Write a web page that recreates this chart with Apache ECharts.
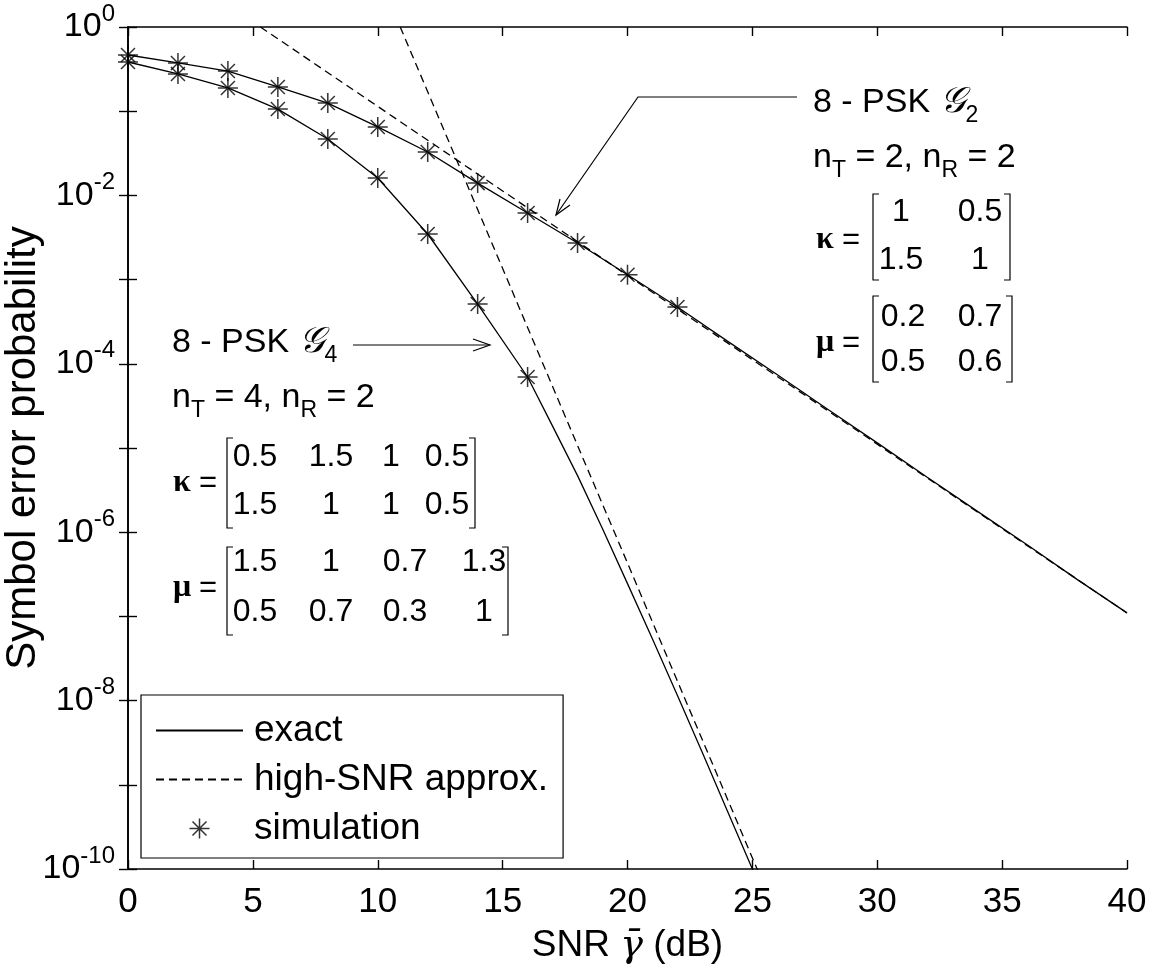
<!DOCTYPE html>
<html><head><meta charset="utf-8">
<script src="https://cdn.jsdelivr.net/npm/echarts@6/dist/echarts.min.js"></script>
<style>html,body{margin:0;padding:0;background:#fff}#c{width:1152px;height:974px}</style>
</head><body><div id="c"></div><script>
const FONT = "'Liberation Sans', Arial, Helvetica, sans-serif";
const SERIF = "'Liberation Serif', 'DejaVu Serif', serif";

// ---- data ----
const snrExactG2 = [0,2,4,6,8,10,12,14,16,18,20,22,24,26,28,30,32,34,36,38,40];
const serExactG2 = [0.465,0.374,0.300,0.194,0.125,0.065,0.0328,0.0140,0.00618,0.00272,0.00114,0.000473,1.86e-4,7.4e-5,2.9e-5,1.15e-5,4.5e-6,1.78e-6,7.1e-7,2.75e-7,1.10e-7];
const snrExactG4 = [0,2,4,6,8,10,12,14,16,17,18,19,20,21,22,23,24,25,26];
const serExactG4 = [0.384,0.277,0.189,0.106,0.0468,0.0161,0.00348,0.000513,6.97e-5,1.82e-5,4.7e-6,1.10e-6,2.45e-7,5.4e-8,1.15e-8,2.4e-9,4.9e-10,1.0e-10,2.0e-11];
const snrApproxG2 = [5.3,10,15,20,25,30,35,40];
const serApproxG2 = [1.0,0.114,0.0113,0.00112,1.12e-4,1.11e-5,1.10e-6,1.10e-7];
const snrApproxG4 = [10.9,12,14,16,18,20,22,24,26];
const serApproxG4 = [1.0,0.17,6.8e-3,2.7e-4,1.07e-5,4.3e-7,1.7e-8,6.8e-10,2.7e-11];
const snrSimG2 = [0,2,4,6,8,10,12,14,16,18,20,22];
const serSimG2 = [0.465,0.374,0.300,0.194,0.125,0.065,0.0328,0.0140,0.00618,0.00272,0.00114,0.000473];
const snrSimG4 = [0,2,4,6,8,10,12,14,16];
const serSimG4 = [0.384,0.277,0.189,0.106,0.0468,0.0161,0.00348,0.000513,6.97e-5];
const yLabelExps = [0,-2,-4,-6,-8,-10];
const legendNames = ['exact','high-SNR approx.','simulation'];

const zip = (a, b) => a.map((v, i) => [v, b[i]]);
const STAR = 'path://M10,0L10,20M0,10L20,10M3,3L17,17M3,17L17,3';

const chart = echarts.init(document.getElementById('c'), null, {renderer: 'canvas'});

const lineBase = {type: 'line', symbol: 'none', showSymbol: false, animation: false, silent: true, z: 3};
const solid = {color: '#000', width: 1.3, type: 'solid'};
const dashed = {color: '#000', width: 1.3, type: [8, 5]};
const starStyle = {color: 'none', borderColor: '#000', borderWidth: 1.5};
const starBase = {
  type: 'scatter', symbol: STAR, symbolSize: 20, symbolKeepAspect: true, animation: false, silent: true, z: 5,
  itemStyle: starStyle
};

// ---- annotation helpers (decoration only) ----
const g = [];
function txt(x, y, text, opts) {
  opts = opts || {};
  g.push({type: 'text', x: x, y: y, z: 50, silent: true, style: Object.assign({
    text: text, fill: '#000', fontSize: 32, fontFamily: FONT,
    align: opts.align || 'left', verticalAlign: 'middle',
    textAlign: opts.align || 'left', textVerticalAlign: 'middle'
  }, opts.style || {})});
}
function poly(points) {
  g.push({type: 'polyline', z: 50, silent: true, shape: {points: points}, style: {stroke: '#000', lineWidth: 1.2, fill: null}});
}
function bracketPair(xl, xr, top, bot) {
  poly([[xl + 6, top], [xl, top], [xl, bot], [xl + 6, bot]]);
  poly([[xr - 6, top], [xr, top], [xr, bot], [xr - 6, bot]]);
}
const rich = {
  t: {fontSize: 34, fontFamily: FONT, color: '#000'},
  g: {fontSize: 36, fontFamily: "'DejaVu Serif', 'Liberation Serif', serif", fontStyle: 'italic', color: '#000'},
  s: {fontSize: 23, fontFamily: FONT, color: '#000', padding: [26, 0, 0, 0]}
};
function matrix(sym, xSym, yMid, xl, xr, top, bot, cols, rows, vals) {
  txt(xSym, yMid, sym, {style: {fontSize: 32, fontFamily: SERIF, fontWeight: 'bold'}});
  txt(xSym + 26, yMid, '=', {style: {fontSize: 31}});
  bracketPair(xl, xr, top, bot);
  for (let r = 0; r < rows.length; r++)
    for (let c = 0; c < cols.length; c++)
      txt(cols[c], rows[r], vals[r][c], {align: 'center', style: {fontSize: 32}});
}
// G2 block
txt(813, 103, '{t|8 - PSK }{g|𝒢}{s|2}', {style: {rich: rich}});
txt(813, 158, '{t|n}{s|T}{t| = 2, n}{s|R}{t| = 2}', {style: {rich: rich}});
matrix('κ', 816, 240, 873, 1010, 194, 280, [901, 980], [212, 260], [['1','0.5'],['1.5','1']]);
matrix('μ', 816, 343, 873, 1012, 296, 382, [903, 980], [317, 362], [['0.2','0.7'],['0.5','0.6']]);
poly([[797, 97], [638, 97], [556, 215]]);
poly([[560, 199], [556, 215], [570, 205]]);
// G4 block
txt(172, 343, '{t|8 - PSK }{g|𝒢}{s|4}', {style: {rich: rich}});
txt(172, 398, '{t|n}{s|T}{t| = 4, n}{s|R}{t| = 2}', {style: {rich: rich}});
matrix('κ', 173, 483, 227, 475, 438, 528, [255, 331, 391, 447], [457, 505], [['0.5','1.5','1','0.5'],['1.5','1','1','0.5']]);
matrix('μ', 173, 588, 227, 508, 547, 635, [255, 331, 405, 484], [562, 612], [['1.5','1','0.7','1.3'],['0.5','0.7','0.3','1']]);
poly([[353, 345], [490, 345]]);
poly([[473, 339], [490, 345], [473, 351]]);

const axisLine = {show: true, lineStyle: {color: '#000', width: 1.6}};
const axisTick = {show: true, inside: true, length: 9, lineStyle: {color: '#000', width: 1.4}};

const option = {
  backgroundColor: '#fff',
  animation: false,
  textStyle: {fontFamily: FONT},
  grid: {left: 128, right: 25, top: 27, bottom: 105, containLabel: false, outerBoundsMode: 'none'},
  legend: {
    data: [
      {name: 'exact', itemStyle: {opacity: 0}},
      {name: 'high-SNR approx.', itemStyle: {opacity: 0}},
      {name: 'simulation', itemStyle: starStyle}
    ],
    orient: 'vertical', left: 141, top: 695,
    padding: [17, 15, 11, 14], itemGap: 12, itemWidth: 87, itemHeight: 20,
    borderColor: '#000', borderWidth: 1.2, backgroundColor: '#fff',
    selectedMode: false, z: 20,
    textStyle: {fontSize: 37, color: '#000', fontFamily: FONT, padding: [0, 0, 0, 6]}
  },
  xAxis: [
    {type: 'value', min: 0, max: 40, interval: 5, position: 'bottom',
     name: '{n|SNR }{g|γ̄}{n| (dB)}', nameLocation: 'middle', nameGap: 58, nameMoveOverlap: false,
     nameTextStyle: {rich: {
       n: {fontSize: 37, fontFamily: FONT, color: '#000'},
       g: {fontSize: 38, fontFamily: "'DejaVu Serif', 'Liberation Serif', serif", fontStyle: 'italic', color: '#000'}
     }},
     axisLine: axisLine, axisTick: axisTick, splitLine: {show: false},
     axisLabel: {fontSize: 35, color: '#000', fontFamily: FONT, margin: 16}},
    {type: 'value', min: 0, max: 40, interval: 5, position: 'top',
     axisLine: axisLine, axisTick: axisTick, splitLine: {show: false}, axisLabel: {show: false}}
  ],
  yAxis: [
    {type: 'log', logBase: 10, min: 1e-10, max: 1, interval: 1, position: 'left',
     name: 'Symbol error probability', nameLocation: 'middle', nameGap: 84, nameMoveOverlap: false,
     nameTextStyle: {fontSize: 42, color: '#000', fontFamily: FONT},
     axisLine: axisLine, axisTick: axisTick, splitLine: {show: false}, minorTick: {show: false},
     axisLabel: {
       margin: 13, color: '#000',
       formatter: function (v) {
         const e = Math.round(Math.log10(v));
         return yLabelExps.indexOf(e) >= 0 ? '{a|10}{b|' + e + '}' : '';
       },
       rich: {
         a: {fontSize: 34, fontFamily: FONT, color: '#000'},
         b: {fontSize: 24, fontFamily: FONT, color: '#000', padding: [0, 0, 26, 0]}
       }
     }},
    {type: 'log', logBase: 10, min: 1e-10, max: 1, interval: 1, position: 'right',
     axisLine: axisLine, axisTick: axisTick, splitLine: {show: false}, minorTick: {show: false},
     axisLabel: {show: false}}
  ],
  series: [
    Object.assign({}, lineBase, {name: 'exact', data: zip(snrExactG2, serExactG2), lineStyle: solid, itemStyle: {color: '#000'}}),
    Object.assign({}, lineBase, {name: 'exact', data: zip(snrExactG4, serExactG4), lineStyle: solid, itemStyle: {color: '#000'}}),
    Object.assign({}, lineBase, {name: 'high-SNR approx.', data: zip(snrApproxG2, serApproxG2), lineStyle: dashed, itemStyle: {color: '#000'}}),
    Object.assign({}, lineBase, {name: 'high-SNR approx.', data: zip(snrApproxG4, serApproxG4), lineStyle: dashed, itemStyle: {color: '#000'}}),
    Object.assign({}, starBase, {name: 'simulation', data: zip(snrSimG2, serSimG2)}),
    Object.assign({}, starBase, {name: 'simulation', data: zip(snrSimG4, serSimG4)})
  ],
  graphic: g
};
chart.setOption(option);
</script></body></html>
